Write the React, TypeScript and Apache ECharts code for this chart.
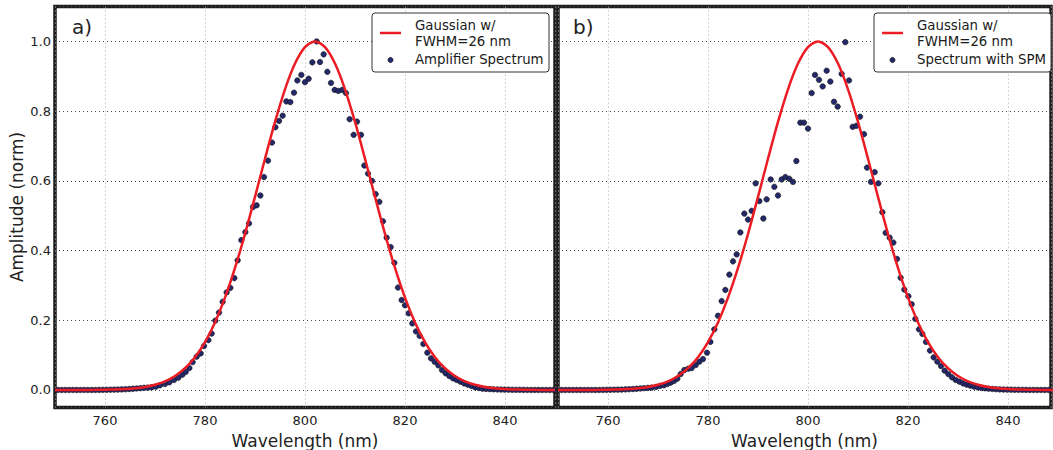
import React, { useEffect, useRef } from "react";
import * as echarts from "echarts";

// Gaussian reference curve (FWHM = 26 nm, centred at 802 nm), sampled every 2 nm
const gaussWl = [750, 752, 754, 756, 758, 760, 762, 764, 766, 768, 770, 772, 774, 776, 778, 780, 782, 784, 786, 788, 790, 792, 794, 796, 798, 800, 802, 804, 806, 808, 810, 812, 814, 816, 818, 820, 822, 824, 826, 828, 830, 832, 834, 836, 838, 840, 842, 844, 846, 848, 850];
const gaussAmp = [0.00002, 0.000035, 0.000079, 0.00017, 0.00036, 0.00072, 0.00141, 0.00268, 0.00491, 0.00873, 0.015, 0.0249, 0.0401, 0.0625, 0.0942, 0.1374, 0.1938, 0.2648, 0.35, 0.4476, 0.554, 0.6636, 0.7691, 0.8627, 0.9365, 0.9837, 1.0, 0.9837, 0.9365, 0.8627, 0.7691, 0.6636, 0.554, 0.4476, 0.35, 0.2648, 0.1938, 0.1374, 0.0942, 0.0625, 0.0401, 0.0249, 0.015, 0.00873, 0.00491, 0.00268, 0.00141, 0.00072, 0.00036, 0.00017, 0.000079];

// Panel a) amplifier spectrum
const ampWl = [750.58, 751.33, 752.08, 752.83, 753.58, 754.33, 755.08, 755.83, 756.58, 757.33, 758.08, 758.83, 759.58, 760.33, 761.08, 761.83, 762.58, 763.33, 764.08, 764.83, 765.58, 766.33, 767.08, 767.83, 768.58,
  769.33, 770.2, 771.0, 772.0, 772.87, 773.8, 774.67, 775.47, 776.13, 776.87, 777.53, 778.33, 779.13, 779.8, 780.67, 781.33, 782.07, 782.8, 783.53, 784.33, 785.07, 785.87, 786.53, 787.27, 788.07, 788.8, 789.6, 790.33, 791.07, 791.8, 792.6, 793.4, 794.07, 794.8, 795.53, 796.27, 797.07, 797.8, 798.47, 799.27, 800.0, 800.73, 801.47,
  802.33, 803.0, 803.73, 804.47, 805.2, 805.93, 806.67, 807.47, 808.2, 808.93, 809.73, 810.4, 811.2, 811.87, 812.6, 813.4, 814.13, 814.87, 815.6, 816.33, 817.13, 817.87, 818.6, 819.33, 820.0, 820.73, 821.47, 822.2, 822.93, 823.67, 824.47, 825.2, 825.93, 826.67, 827.4, 828.13, 828.87, 829.6, 830.33, 831.07, 831.8, 832.53, 833.27, 834.0, 834.73, 835.47,
  836.2, 836.95, 837.7, 838.45, 839.2, 839.95, 840.7, 841.45, 842.2, 842.95, 843.7, 844.45, 845.2, 845.95, 846.7, 847.45, 848.2, 848.95, 849.7];
const ampVal = [0, 0, 0, 0, 0, 0, 0, 0, 0, 0, 0, 0.0003, 0.0005, 0.0006, 0.0008, 0.001, 0.0013, 0.0017, 0.0022, 0.0028, 0.0035, 0.0043, 0.0052, 0.0062, 0.0068,
  0.0076, 0.0095, 0.0134, 0.0172, 0.022, 0.0287, 0.0353, 0.0439, 0.0516, 0.063, 0.08, 0.0955, 0.105, 0.126, 0.143, 0.162, 0.199, 0.222, 0.253, 0.28, 0.293, 0.321, 0.372, 0.43, 0.453, 0.478, 0.525, 0.53, 0.558, 0.611, 0.658, 0.71, 0.754, 0.772, 0.787, 0.828, 0.826, 0.853, 0.888, 0.904, 0.883, 0.893, 0.94,
  1.0, 0.941, 0.963, 0.913, 0.881, 0.861, 0.858, 0.861, 0.852, 0.777, 0.732, 0.77, 0.732, 0.644, 0.621, 0.6, 0.562, 0.54, 0.484, 0.437, 0.41, 0.365, 0.294, 0.258, 0.243, 0.22, 0.191, 0.168, 0.155, 0.132, 0.107, 0.0907, 0.081, 0.0707, 0.0573, 0.0478, 0.04, 0.0334, 0.0287, 0.0239, 0.019, 0.0153, 0.0115, 0.0076, 0.0057, 0.0038,
  0.0031, 0.0025, 0.002, 0.0016, 0.0013, 0.001, 0.0008, 0.0006, 0.0005, 0.0004, 0.0003, 0.0002, 0.0001, 0.0001, 0, 0, 0, 0, 0];

// Panel b) spectrum with SPM
const spmWl = [750.73, 751.48, 752.23, 752.98, 753.73, 754.48, 755.23, 755.98, 756.73, 757.48, 758.23, 758.98, 759.73, 760.48, 761.23, 761.98, 762.73, 763.48, 764.23, 764.98, 765.73, 766.48, 767.23, 767.98,
  768.73, 769.6, 770.4, 771.2, 771.87, 772.53, 773.2, 773.87, 774.53, 775.27, 776.07, 776.73, 777.53, 778.27, 779.0, 779.8, 780.47, 781.27, 782.0, 782.73, 783.47, 784.27, 785.0, 785.73, 786.47, 787.27, 788.0, 788.73, 789.53, 790.27, 791.07, 791.73, 792.53, 793.27, 794.0, 794.73, 795.47, 796.27, 797.0, 797.67, 798.47, 799.2, 800.0, 800.73, 801.4, 802.2,
  802.93, 803.73, 804.47, 805.2, 805.93, 806.73, 807.47, 808.2, 808.93, 809.67, 810.4, 811.2, 811.8, 812.6, 813.33, 814.07, 814.87, 815.53, 816.33, 817.07, 817.8, 818.53, 819.27, 820.07, 820.73, 821.47, 822.2, 822.87, 823.6, 824.4, 825.13, 825.87, 826.6, 827.33, 828.07, 828.8, 829.53, 830.27, 831.0, 831.73, 832.47, 833.2, 833.93, 834.67, 835.4, 836.13, 836.87,
  837.6, 838.35, 839.1, 839.85, 840.6, 841.35, 842.1, 842.85, 843.6, 844.35, 845.1, 845.85, 846.6, 847.35, 848.1];
const spmVal = [0, 0, 0, 0, 0, 0, 0, 0, 0, 0, 0, 0.0003, 0.0005, 0.0006, 0.0008, 0.001, 0.0013, 0.0017, 0.0022, 0.0028, 0.0035, 0.0043, 0.0052, 0.006,
  0.0067, 0.0086, 0.0115, 0.0134, 0.0172, 0.021, 0.0258, 0.0325, 0.0458, 0.0573, 0.0611, 0.063, 0.0716, 0.0812, 0.0888, 0.107, 0.138, 0.174, 0.213, 0.255, 0.287, 0.331, 0.369, 0.389, 0.452, 0.506, 0.489, 0.514, 0.593, 0.542, 0.492, 0.547, 0.604, 0.583, 0.558, 0.604, 0.611, 0.606, 0.597, 0.657, 0.767, 0.767, 0.75, 0.852, 0.904, 0.89,
  0.871, 0.916, 0.885, 0.827, 0.813, 0.907, 0.998, 0.888, 0.755, 0.758, 0.784, 0.734, 0.638, 0.597, 0.625, 0.593, 0.51, 0.451, 0.437, 0.423, 0.376, 0.322, 0.288, 0.269, 0.246, 0.204, 0.174, 0.161, 0.138, 0.113, 0.0936, 0.0812, 0.0688, 0.0554, 0.0458, 0.0363, 0.0287, 0.0239, 0.019, 0.0153, 0.0124, 0.0095, 0.0076, 0.0057, 0.0048, 0.0038, 0.0029,
  0.0022, 0.0017, 0.0013, 0.001, 0.0008, 0.0006, 0.0005, 0.0004, 0.0003, 0.0002, 0.0001, 0.0001, 0, 0, 0];

const legendA = ["Gaussian w/", "FWHM=26 nm", "Amplifier Spectrum"];
const legendB = ["Gaussian w/", "FWHM=26 nm", "Spectrum with SPM"];
const panelLabels = ["a)", "b)"];

const FONT = '"DejaVu Sans", "Liberation Sans", sans-serif';
const RED = "#ec1c24";
const NAVY = "#23296a";

function zip(xs: number[], ys: number[]) {
  return xs.map((x, i) => [x, ys[i]]);
}

function legendGraphic(x: number, labels: string[]) {
  const tx = x + 43;
  const ts = { font: `13.3px ${FONT}`, fill: "#1a1a1a", verticalAlign: "middle", textVerticalAlign: "middle" };
  return [
    { type: "rect", z: 100, shape: { x, y: 13, width: 177, height: 59, r: 3 }, style: { fill: "#fff", stroke: "#333", lineWidth: 1 } },
    { type: "line", z: 101, shape: { x1: x + 8, y1: 33, x2: x + 29, y2: 33 }, style: { stroke: RED, lineWidth: 2.5 } },
    { type: "circle", z: 101, shape: { cx: x + 18.5, cy: 60, r: 2.6 }, style: { fill: NAVY, stroke: "#111", lineWidth: 0.6 } },
    { type: "text", z: 101, x: tx, y: 25, style: { ...ts, text: labels[0] } },
    { type: "text", z: 101, x: tx, y: 41, style: { ...ts, text: labels[1] } },
    { type: "text", z: 101, x: tx, y: 59.5, style: { ...ts, text: labels[2] } },
  ];
}

export default function App() {
  const ref = useRef<HTMLDivElement>(null);
  useEffect(() => {
    document.body.style.margin = "0";
    if (!ref.current) return;
    const chart = echarts.init(ref.current, undefined, { renderer: "svg" });
    const xAxisBase = (gi: number, max: number) => ({
      type: "value",
      gridIndex: gi,
      min: 750,
      max,
      name: "Wavelength (nm)",
      nameLocation: "middle",
      nameGap: 21,
      nameTextStyle: { fontFamily: FONT, fontSize: 17, color: "#222" },
      axisLine: { show: false },
      axisTick: { show: false },
      axisLabel: { fontFamily: FONT, fontSize: 13, color: "#222", margin: 7, showMinLabel: false, showMaxLabel: false },
      splitLine: { show: true, lineStyle: { color: "#aaa", type: [1, 3], width: 1 } },
    });
    const yAxisBase = (gi: number, labels: boolean) => ({
      type: "value",
      gridIndex: gi,
      min: -0.05,
      max: 1.1,
      name: labels ? "Amplitude (norm)" : "",
      nameLocation: "middle",
      nameGap: 30,
      nameTextStyle: { fontFamily: FONT, fontSize: 17, color: "#222" },
      axisLine: { show: false },
      axisTick: { show: false },
      axisLabel: {
        show: labels,
        fontFamily: FONT,
        fontSize: 13,
        color: "#222",
        margin: 4,
        showMinLabel: false,
        showMaxLabel: false,
        formatter: (v: number) => v.toFixed(1),
      },
      splitLine: { show: true, lineStyle: { color: "#444", type: [1, 3], width: 1 } },
    });
    const gridBase = {
      top: 6.6,
      height: 400.8,
      show: true,
      borderColor: "#1e1e1e",
      borderWidth: 3.5,
      backgroundColor: "transparent",
      containLabel: false,
      outerBoundsMode: "none",
    };
    chart.setOption({
      animation: false,
      backgroundColor: "#fff",
      grid: [
        { ...gridBase, left: 55, width: 500 },
        { ...gridBase, left: 558, width: 493 },
      ],
      xAxis: [xAxisBase(0, 850), xAxisBase(1, 848.6)],
      yAxis: [yAxisBase(0, true), yAxisBase(1, false)],
      series: [
        {
          type: "scatter", name: "Amplifier Spectrum", xAxisIndex: 0, yAxisIndex: 0, z: 2,
          data: zip(ampWl, ampVal), symbolSize: 5.5,
          itemStyle: { color: NAVY, borderColor: "#111", borderWidth: 0.6, opacity: 1 },
        },
        {
          type: "line", name: "Gaussian w/ FWHM=26 nm", xAxisIndex: 0, yAxisIndex: 0, z: 3,
          data: zip(gaussWl, gaussAmp), showSymbol: false, smooth: 0.3,
          lineStyle: { color: RED, width: 2.5 },
        },
        {
          type: "scatter", name: "Spectrum with SPM", xAxisIndex: 1, yAxisIndex: 1, z: 2,
          data: zip(spmWl, spmVal), symbolSize: 5.5,
          itemStyle: { color: NAVY, borderColor: "#111", borderWidth: 0.6, opacity: 1 },
        },
        {
          type: "line", name: "Gaussian w/ FWHM=26 nm (b)", xAxisIndex: 1, yAxisIndex: 1, z: 3,
          data: zip(gaussWl, gaussAmp), showSymbol: false, smooth: 0.3,
          lineStyle: { color: RED, width: 2.5 },
        },
      ],
      graphic: [
        { type: "text", z: 100, x: 72, y: 27, style: { text: panelLabels[0], font: `20px ${FONT}`, fill: "#222", verticalAlign: "middle", textVerticalAlign: "middle" } },
        { type: "text", z: 100, x: 573, y: 27, style: { text: panelLabels[1], font: `20px ${FONT}`, fill: "#222", verticalAlign: "middle", textVerticalAlign: "middle" } },
        ...legendGraphic(372, legendA),
        ...legendGraphic(874, legendB),
      ],
    });
    return () => chart.dispose();
  }, []);
  return <div ref={ref} style={{ width: 1053, height: 450 }} />;
}
